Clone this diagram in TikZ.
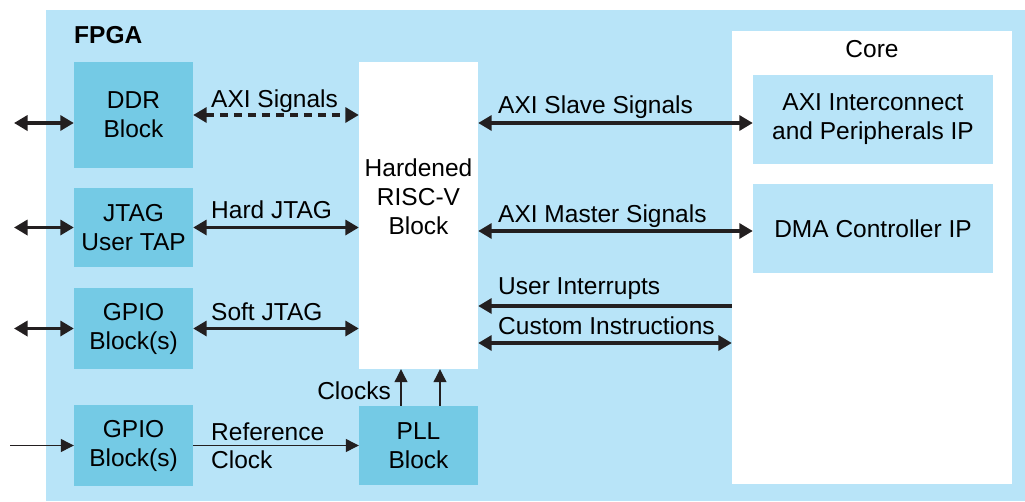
\documentclass[tikz,border=0pt]{standalone}
\usepackage{fontspec}
\setmainfont{Liberation Sans}
\usetikzlibrary{arrows.meta}
\definecolor{fpgabg}{RGB}{184,228,248}
\definecolor{blockfill}{RGB}{116,202,229}
\definecolor{wirecol}{RGB}{35,31,32}
\tikzset{
	block/.style={fill=blockfill,inner sep=0pt,align=center,minimum width=119pt},
	ipbox/.style={fill=fpgabg,inner sep=0pt,align=center,minimum width=240pt,minimum height=89pt},
	bus/.style={draw=wirecol,line width=3.3pt,{Triangle[length=13.5pt,width=15pt]}-{Triangle[length=13.5pt,width=15pt]}},
	busin/.style={draw=wirecol,line width=3.3pt,-{Triangle[length=13.5pt,width=15pt]}},
	wire/.style={draw=wirecol,line width=1.2pt,-{Triangle[length=13pt,width=13pt]}},
	sig/.style={anchor=base west,inner sep=0pt}
}
\begin{document}
\begin{tikzpicture}[x=1pt,y=-1pt,font=\fontsize{24.5}{29}\selectfont]
		
		\useasboundingbox (0,0) rectangle (1025,501);
		
		% Fondo FPGA
		\fill[fpgabg] (46,10) rectangle (1025,501);
		\node[anchor=base west,inner sep=0pt,font=\fontsize{24.5}{29}\selectfont\bfseries] (fpga) at (74,43) {FPGA};
		
		% Bloques
		\node[block,minimum height=106pt] (ddr) at (133.5,115) {DDR\\Block};
		\node[block,minimum height=79pt] (jtag) at (133.5,227.5) {JTAG\\User TAP};
		\node[block,minimum height=81pt] (gpioa) at (133.5,328.5) {GPIO\\Block(s)};
		\node[block,minimum height=81pt] (gpiob) at (133.5,445.5) {GPIO\\Block(s)};
		\node[block,minimum height=79pt] (pll) at (418.5,445.5) {PLL\\Block};
		\node[fill=white,minimum width=119pt,minimum height=307pt] (risc) at (418.5,215.5) {};
		\node[align=center] (risctext) at (418.5,197) {Hardened\\RISC-V\\Block};
		
		% Core
		\node[fill=white,minimum width=280pt,minimum height=453pt] (core) at (872,257.5) {};
		\node[anchor=base,inner sep=0pt] (coretext) at (872,57) {Core};
		\node[ipbox] (axiic) at (873,119.5) {AXI Interconnect\\and Peripherals IP};
		\node[ipbox] (dma) at (873,228.5) {DMA Controller IP};
		
		% Puertos externos
		\coordinate (extddr) at (14,123);
		\coordinate (extjtag) at (14,227.5);
		\coordinate (extgpio) at (14,328.5);
		\coordinate (extclk) at (10,445.5);
		\draw[bus] (extddr) -- (ddr.west |- extddr);
		\draw[bus] (extjtag) -- (jtag.west);
		\draw[bus] (extgpio) -- (gpioa.west);
		\draw[wire] (extclk) -- (gpiob.west);
		
		% Conexiones izquierda
		\draw[bus,dashed,dash pattern=on 8pt off 6pt] (ddr.east) -- (risc.west |- ddr.east);
		\draw[bus] (jtag.east) -- (risc.west |- jtag.east);
		\draw[bus] (gpioa.east) -- (risc.west |- gpioa.east);
		\draw[wire] (gpiob.east) -- (pll.west);
		\draw[wire] ([xshift=-17.5pt]pll.north) -- ([xshift=-17.5pt]risc.south);
		\draw[wire] ([xshift=21.5pt]pll.north) -- ([xshift=21.5pt]risc.south);
		
		% Conexiones derecha
		\coordinate (yslave) at (0,123);
		\coordinate (ymaster) at (0,231);
		\coordinate (yirq) at (0,306);
		\coordinate (ycustom) at (0,343);
		\draw[bus] (risc.east |- yslave) -- (axiic.west |- yslave);
		\draw[bus] (risc.east |- ymaster) -- (dma.west |- ymaster);
		\draw[busin] (core.west |- yirq) -- (risc.east |- yirq);
		\draw[bus] (risc.east |- ycustom) -- (core.west |- ycustom);
		
		% Etiquetas
		\node[sig] at (211,107) {AXI Signals};
		\node[sig] at (211,218) {Hard JTAG};
		\node[sig] at (211,320) {Soft JTAG};
		\node[sig] at (211,440) {Reference};
		\node[sig] at (211,468) {Clock};
		\node[anchor=base east,inner sep=0pt] at (391,399) {Clocks};
		\node[sig] at (498,113) {AXI Slave Signals};
		\node[sig] at (498,222) {AXI Master Signals};
		\node[sig] at (498,294) {User Interrupts};
		\node[sig] at (498,334) {Custom Instructions};
		
	\end{tikzpicture}
\end{document}
